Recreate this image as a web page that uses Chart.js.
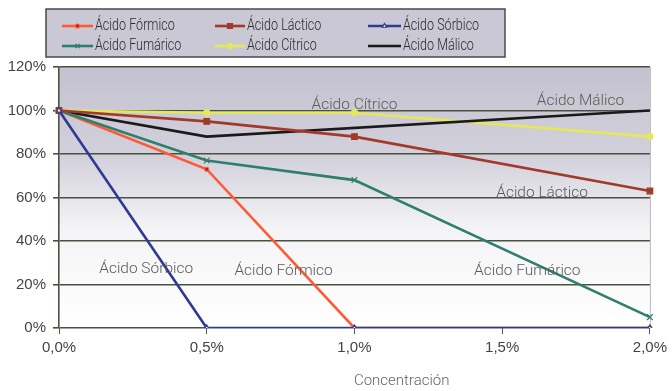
<!DOCTYPE html>
<html><head><meta charset="utf-8">
<script src="https://cdn.jsdelivr.net/npm/chart.js@4.4.1/dist/chart.umd.min.js"></script>
<style>html,body{margin:0;padding:0;background:#fff}#wrap{width:672px;height:391px}</style>
</head><body><div id="wrap"><canvas id="c" width="672" height="391"></canvas></div>
<script>
const categories = ['0,0%', '0,5%', '1,0%', '1,5%', '2,0%'];
const formico   = [100, 73, 0, null, 0];
const lactico   = [100, 95, 88, null, 63];
const sorbico   = [100, 0, 0, null, 0];
const fumarico  = [100, 77, 68, null, 5];
const citrico   = [100, 99, 99, null, 88];
const malico    = [100, 88, null, null, 100];
const yTicks = [0, 20, 40, 60, 80, 100, 120];
const seriesNames = ['Ácido Fórmico', 'Ácido Láctico', 'Ácido Sórbico', 'Ácido Fumárico', 'Ácido Cítrico', 'Ácido Málico'];
// in-plot annotation labels: [text, category index position, value]
const lineLabels = [
  ['Ácido Cítrico', 2.0, 102.5],
  ['Ácido Málico', 3.53, 104.3],
  ['Ácido Láctico', 3.27, 61.8],
  ['Ácido Sórbico', 0.59, 26.8],
  ['Ácido Fórmico', 1.52, 26.3],
  ['Ácido Fumárico', 3.17, 26.3]
];
const xTitle = 'Concentración';

const colors = ['#ff5a36', '#a23a2c', '#2e3a94', '#2f7f6e', '#e4e85a', '#1a1a1a'];
const pointStyles = ['circle', 'rect', 'triangle', 'crossRot', 'circle', false];
const pointRadii = [2, 4, 3, 4, 3, 0];
const legendRadii = [2, 3.5, 2.5, 3, 2.5, 0];
const pointFill = ['#b02010', '#a23a2c', '#ffffff', '#2f7f6e', '#e4e85a', '#1a1a1a'];
const drawOrder = [4, 2, 1, 3, 6, 5];
const allData = [formico, lactico, sorbico, fumarico, citrico, malico];

const datasets = allData.map((d, i) => ({
  label: seriesNames[i], data: d, borderColor: colors[i], backgroundColor: pointFill[i],
  borderWidth: 2.6, pointStyle: pointStyles[i] || 'circle', pointRadius: pointRadii[i],
  pointBorderColor: colors[i], pointBorderWidth: 1.2, spanGaps: true, tension: 0, order: drawOrder[i]
}));

const bgPlugin = {
  id: 'bg',
  beforeDraw(chart) {
    const {ctx, chartArea: a} = chart;
    const g = ctx.createLinearGradient(0, a.top, 0, a.bottom);
    g.addColorStop(0, '#c4c2cf');
    g.addColorStop(0.35, '#d3d1dc');
    g.addColorStop(0.62, '#f4f4f6');
    g.addColorStop(1, '#ffffff');
    ctx.save();
    ctx.fillStyle = g;
    ctx.fillRect(a.left, a.top, a.right - a.left, a.bottom - a.top);
    ctx.strokeStyle = '#b8b8bc'; ctx.lineWidth = 1;
    ctx.beginPath(); ctx.moveTo(a.right + 0.5, a.top); ctx.lineTo(a.right + 0.5, a.bottom); ctx.stroke();
    ctx.restore();
  }
};

function narrowText(ctx, t, x, y, sx) {
  ctx.save();
  ctx.translate(x, y);
  ctx.scale(sx, 1);
  ctx.fillText(t, 0, 0);
  ctx.restore();
}

const textPlugin = {
  id: 'texts',
  afterDatasetsDraw(chart) {
    const {ctx, scales: {x, y}} = chart;
    ctx.save();
    ctx.font = '300 15px Roboto';
    ctx.fillStyle = '#5a5a5a';
    ctx.textAlign = 'center'; ctx.textBaseline = 'middle';
    const x0 = x.getPixelForValue(0), x1 = x.getPixelForValue(1);
    lineLabels.forEach(([t, xi, v]) => {
      narrowText(ctx, t, x0 + (x1 - x0) * xi, y.getPixelForValue(v), 1.03);
    });
    // x axis title
    ctx.font = '300 15px Roboto';
    ctx.fillStyle = '#666';
    ctx.fillText(xTitle, x0 + (x1 - x0) * 2.32, 381);
    // legend
    const L = 46, T = 9, R = 505, B = 57;
    ctx.fillStyle = '#cac8d5';
    ctx.fillRect(L, T, R - L, B - T);
    ctx.strokeStyle = '#4a4a4a'; ctx.lineWidth = 1.5;
    ctx.strokeRect(L, T, R - L, B - T);
    const cols = [[62, 95], [215, 247], [368, 403]];
    const rows = [26, 46];
    ctx.font = '300 16.5px Roboto';
    ctx.textAlign = 'left';
    datasets.forEach((ds, i) => {
      const c = cols[i % 3], r = rows[Math.floor(i / 3)];
      ctx.strokeStyle = colors[i]; ctx.lineWidth = 2.6;
      ctx.beginPath(); ctx.moveTo(c[0], r); ctx.lineTo(c[1] - 2, r); ctx.stroke();
      if (pointStyles[i]) {
        ctx.fillStyle = pointFill[i]; ctx.strokeStyle = colors[i]; ctx.lineWidth = 1.2;
        Chart.helpers.drawPoint(ctx, {pointStyle: pointStyles[i], radius: legendRadii[i], borderWidth: 1.2, rotation: 0},
          (c[0] + c[1] - 2) / 2, r);
      }
      ctx.fillStyle = '#2a2a2a';
      narrowText(ctx, ds.label, c[1], r, 0.76);
    });
    ctx.restore();
  }
};

Chart.defaults.font.family = 'Roboto';
new Chart(document.getElementById('c'), {
  type: 'line',
  data: {labels: categories, datasets},
  options: {
    responsive: false, animation: false,
    layout: {padding: {left: 0, right: 21, top: 67, bottom: 0}},
    plugins: {legend: {display: false}, tooltip: {enabled: false}},
    scales: {
      x: {
        offset: false,
        grid: {drawOnChartArea: false, drawTicks: true, tickLength: 6, color: '#555', offset: false},
        border: {display: false},
        ticks: {color: '#444', font: {size: 15, family: 'Liberation Sans'}, padding: 5, maxRotation: 0},
        afterFit(s) { s.height = 63; }
      },
      y: {
        min: 0, max: 120,
        afterBuildTicks(s) { s.ticks = yTicks.map(v => ({value: v})); },
        grid: {color: '#47523f', lineWidth: 1.6, tickLength: 6, drawTicks: true},
        border: {display: true, color: '#47523f', width: 1.6},
        ticks: {color: '#444', font: {size: 15, family: 'Liberation Sans'}, padding: 7, callback: v => v + '%'},
        afterFit(s) { s.width = 59; }
      }
    }
  },
  plugins: [bgPlugin, textPlugin]
});
</script></body></html>
